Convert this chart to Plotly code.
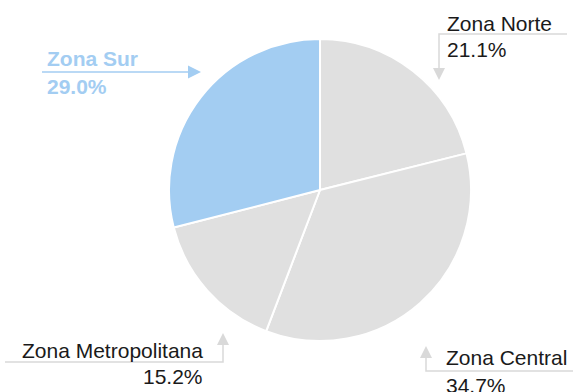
import plotly.graph_objects as go

# Regional share data
zonas = ["Zona Norte", "Zona Central", "Zona Metropolitana", "Zona Sur"]
porcentajes = [21.1, 34.7, 15.2, 29.0]
destacada = "Zona Sur"

W, H = 573, 392
GRAY = "#E0E0E0"
LINE_GRAY = "#D9D9D9"
BLUE = "#A3CDF2"
TEXT = "#1A1A1A"
FONT = "Liberation Sans, Arial, sans-serif"


def px(x):
    return x / W


def py(y):
    return 1 - y / H


colors = [BLUE if z == destacada else GRAY for z in zonas]

fig = go.Figure(
    go.Pie(
        labels=zonas,
        values=porcentajes,
        sort=False,
        direction="clockwise",
        rotation=0,
        marker=dict(colors=colors, line=dict(color="white", width=2)),
        textinfo="none",
        hoverinfo="label+percent",
        showlegend=False,
        domain=dict(x=[px(169), px(471)], y=[py(341), py(39)]),
    )
)

shapes = []
annotations = []


def polyline(points, color):
    d = "M " + " L ".join(f"{px(x)},{py(y)}" for x, y in points)
    shapes.append(dict(type="path", xref="paper", yref="paper", path=d,
                       line=dict(color=color, width=1.5)))


def head(tip, direction, color, length=12, half=6):
    x, y = tip
    if direction == "down":
        pts = [(x, y), (x - half, y - length), (x + half, y - length)]
    elif direction == "up":
        pts = [(x, y), (x - half, y + length), (x + half, y + length)]
    else:  # right
        pts = [(x, y), (x - length, y - half), (x - length, y + half)]
    d = "M " + " L ".join(f"{px(a)},{py(b)}" for a, b in pts) + " Z"
    shapes.append(dict(type="path", xref="paper", yref="paper", path=d,
                       fillcolor=color, line=dict(color=color, width=0)))


def label(text, x, y, anchor, color, bold=False):
    if bold:
        text = f"<b>{text}</b>"
    annotations.append(dict(
        text=text, xref="paper", yref="paper", x=px(x), y=py(y),
        xanchor=anchor, yanchor="middle", showarrow=False,
        font=dict(family=FONT, size=21, color=color)))


pct = {z: f"{v:.1f}%" for z, v in zip(zonas, porcentajes)}

# Zona Norte (top right)
polyline([(567, 34), (439, 34), (439, 68)], LINE_GRAY)
head((439, 80), "down", LINE_GRAY)
label("Zona Norte", 445, 24, "left", TEXT)
label(pct["Zona Norte"], 445, 49, "left", TEXT)

# Zona Central (bottom right)
polyline([(573, 371), (426, 371), (426, 358)], LINE_GRAY)
head((426, 346), "up", LINE_GRAY)
label("Zona Central", 444, 357, "left", TEXT)
label(pct["Zona Central"], 444, 385, "left", TEXT)

# Zona Metropolitana (bottom left)
polyline([(5, 362), (223, 362), (223, 345)], LINE_GRAY)
head((223, 333), "up", LINE_GRAY)
label("Zona Metropolitana", 205, 350, "right", TEXT)
label(pct["Zona Metropolitana"], 205, 376, "right", TEXT)

# Zona Sur (highlighted, top left)
polyline([(42, 72), (189, 72)], BLUE)
head((201, 72), "right", BLUE, length=13, half=6.5)
label("Zona Sur", 45, 59, "left", BLUE, bold=True)
label(pct["Zona Sur"], 45, 87, "left", BLUE, bold=True)

fig.update_layout(
    width=W, height=H,
    margin=dict(l=0, r=0, t=0, b=0),
    paper_bgcolor="white",
    plot_bgcolor="white",
    shapes=shapes,
    annotations=annotations,
)

fig.write_html("out.html")
